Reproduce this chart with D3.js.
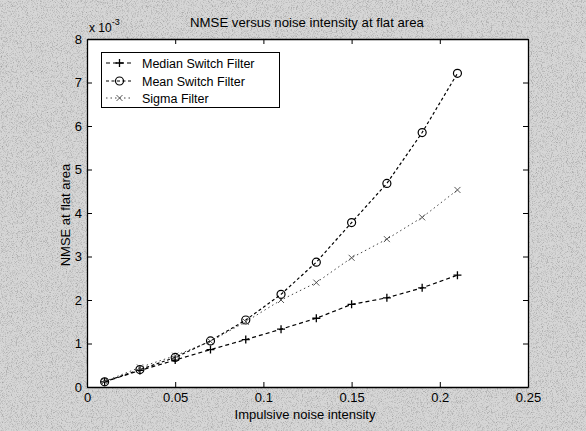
<!DOCTYPE html>
<html><head><meta charset="utf-8">
<script src="https://cdn.jsdelivr.net/npm/d3@7"></script>
<style>body{margin:0;background:#c2c2c2;} svg{display:block;font-family:"Liberation Sans",Arial,sans-serif;}</style>
</head><body>
<script>
const xValues = [0.01,0.03,0.05,0.07,0.09,0.11,0.13,0.15,0.17,0.19,0.21];
const medianSwitch = [0.12,0.38,0.62,0.86,1.09,1.33,1.58,1.9,2.05,2.28,2.57];
const meanSwitch = [0.12,0.40,0.68,1.06,1.54,2.13,2.87,3.78,4.68,5.85,7.21];
const sigmaFilter = [0.13,0.45,0.72,1.05,1.5,2.0,2.4,2.97,3.4,3.9,4.53];
const xTicks = [0,0.05,0.1,0.15,0.2,0.25];
const yTicks = [0,1,2,3,4,5,6,7,8];
const seriesNames = ["Median Switch Filter","Mean Switch Filter","Sigma Filter"];

const W=586,H=431;
const m={l:87,t:39,r:528,b:387};
const svg=d3.select("body").append("svg").attr("width",W).attr("height",H);
const defs=svg.append("defs");
const f=defs.append("filter").attr("id","grain").attr("x",0).attr("y",0).attr("width","100%").attr("height","100%");
f.append("feTurbulence").attr("type","fractalNoise").attr("baseFrequency",1.2).attr("numOctaves",1).attr("seed",3).attr("result","n");
f.append("feColorMatrix").attr("in","n").attr("type","matrix")
  .attr("values","0 0 0 0 0  0 0 0 0 0  0 0 0 0 0  -2.2 0 0 0 1.15").attr("result","a");
f.append("feFlood").attr("flood-color","#8a8a8a").attr("result","c");
f.append("feComposite").attr("in","c").attr("in2","a").attr("operator","in").attr("result","dots");
f.append("feFlood").attr("flood-color","#d6d6d6").attr("result","bg");
f.append("feMerge").call(mg=>{mg.append("feMergeNode").attr("in","bg");mg.append("feMergeNode").attr("in","dots");});
svg.append("rect").attr("width",W).attr("height",H).attr("fill","#c4c4c4").attr("filter","url(#grain)");

const x=d3.scaleLinear().domain([0,0.25]).range([m.l,m.r]);
const y=d3.scaleLinear().domain([0,8]).range([m.b,m.t]);
svg.append("rect").attr("x",m.l).attr("y",m.t).attr("width",m.r-m.l).attr("height",m.b-m.t).attr("fill","#fff");

const fmtX=d=>d===0?"0":String(d);
svg.append("g").attr("transform",`translate(0,${m.b})`)
  .call(d3.axisBottom(x).tickValues(xTicks).tickFormat(fmtX).tickSizeInner(-5).tickSizeOuter(0).tickPadding(6));
svg.append("g").attr("transform",`translate(${m.l},0)`)
  .call(d3.axisLeft(y).tickValues(yTicks).tickFormat(d3.format("d")).tickSizeInner(-5).tickSizeOuter(0).tickPadding(5));
svg.append("g").attr("transform",`translate(0,${m.t})`)
  .call(d3.axisTop(x).tickValues(xTicks).tickFormat("").tickSizeInner(-5).tickSizeOuter(0));
svg.append("g").attr("transform",`translate(${m.r},0)`)
  .call(d3.axisRight(y).tickValues(yTicks).tickFormat("").tickSizeInner(-5).tickSizeOuter(0));
svg.selectAll(".domain").attr("stroke","#000").attr("stroke-width",1.3);
svg.selectAll(".tick line").attr("stroke","#000");
svg.selectAll(".tick text").attr("font-size",13).attr("fill","#000").attr("font-family","Liberation Sans,Arial,sans-serif");

// exponent
const ex=svg.append("text").attr("x",89).attr("y",32).attr("font-size",12).attr("fill","#000");
ex.append("tspan").text("x 10");
ex.append("tspan").attr("dy",-7).attr("font-size",9).text("-3");

svg.append("text").attr("x",307).attr("y",27).attr("text-anchor","middle").attr("font-size",13.2).attr("fill","#000")
  .text("NMSE versus noise intensity at flat area");
svg.append("text").attr("x",305).attr("y",419).attr("text-anchor","middle").attr("font-size",13).attr("fill","#000")
  .text("Impulsive noise intensity");
svg.append("text").attr("transform","translate(70,215) rotate(-90)").attr("text-anchor","middle").attr("font-size",13).attr("fill","#000")
  .text("NMSE at flat area");

const series=[
  {name:seriesNames[0],vals:medianSwitch,dash:"4,3",marker:"plus",color:"#000",w:1.2},
  {name:seriesNames[1],vals:meanSwitch,dash:"3,2.5",marker:"circle",color:"#000",w:1.2},
  {name:seriesNames[2],vals:sigmaFilter,dash:"1.5,3",marker:"cross",color:"#444",w:1}
];
const line=d3.line().x((d,i)=>x(xValues[i])).y(d=>y(d));
function marker(g,type,cx,cy,color){
  if(type==="plus"){
    g.append("path").attr("d",`M${cx-4},${cy}H${cx+4}M${cx},${cy-4}V${cy+4}`).attr("stroke",color).attr("stroke-width",1.3);
  }else if(type==="circle"){
    g.append("circle").attr("cx",cx).attr("cy",cy).attr("r",4).attr("fill","none").attr("stroke",color).attr("stroke-width",1.2);
  }else{
    g.append("path").attr("d",`M${cx-3},${cy-3}L${cx+3},${cy+3}M${cx-3},${cy+3}L${cx+3},${cy-3}`).attr("stroke",color).attr("stroke-width",0.9);
  }
}
series.forEach(s=>{
  const g=svg.append("g");
  g.append("path").attr("d",line(s.vals)).attr("fill","none").attr("stroke",s.color).attr("stroke-width",s.w).attr("stroke-dasharray",s.dash);
  s.vals.forEach((v,i)=>marker(g,s.marker,x(xValues[i]),y(v),s.color));
});

// legend
const lg=svg.append("g");
lg.append("rect").attr("x",101.5).attr("y",52.5).attr("width",178).attr("height",55).attr("fill","#fff").attr("stroke","#000").attr("stroke-width",1);
const rowY=[63,81,98];
series.forEach((s,i)=>{
  lg.append("line").attr("x1",106).attr("x2",133).attr("y1",rowY[i]).attr("y2",rowY[i]).attr("stroke",s.color).attr("stroke-width",s.w).attr("stroke-dasharray",s.dash);
  marker(lg,s.marker,119.5,rowY[i],s.color);
  lg.append("text").attr("x",142).attr("y",rowY[i]+4.5).attr("font-size",12.5).attr("fill","#000").text(s.name);
});
</script>
</body></html>
